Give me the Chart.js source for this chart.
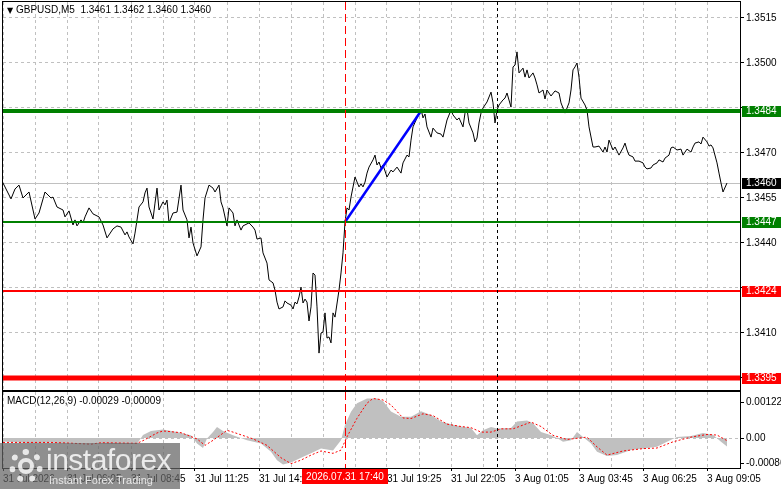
<!DOCTYPE html>
<html>
<head>
<meta charset="utf-8">
<title>GBPUSD M5</title>
<script src="https://cdn.jsdelivr.net/npm/chart.js@4.4.1/dist/chart.umd.min.js"></script>
<style>
  body { margin: 0; background: #fff; width: 781px; height: 489px; overflow: hidden; position: relative;
         font-family: 'Liberation Sans', Arial, sans-serif; }
  canvas { position: absolute; left: 0; }
  #priceChart { top: 0; }
  #macdChart { top: 391px; }
  .caption { position: absolute; font-size: 10px; line-height: 12px; color: #000; white-space: pre; }
  #title { left: 7px; top: 4px; }
  #title .tri { font-family: 'DejaVu Sans', sans-serif; font-size: 8px; }
  #macdTitle { left: 7px; top: 395px; }
  #wm { position: absolute; left: 0; top: 443px; width: 180px; height: 46px; background: rgba(100, 100, 100, 0.72); overflow: hidden; }
  #wm .gear { position: absolute; left: 9px; top: 6px; width: 22px; height: 22px; border: 6px dotted rgba(255, 255, 255, 0.8); border-radius: 50%; }
  #wm .gear::after { content: ''; position: absolute; left: 3px; top: 3px; width: 8px; height: 8px; border: 4px solid rgba(255, 255, 255, 0.8); border-radius: 50%; }
  #wm .big { position: absolute; left: 46px; top: 2px; font-size: 30px; line-height: 30px; color: rgba(255, 255, 255, 0.82); letter-spacing: -0.5px; }
  #wm .small { position: absolute; left: 49px; top: 32px; font-size: 11px; line-height: 11px; color: rgba(255, 255, 255, 0.8); }
</style>
</head>
<body>
<canvas id="priceChart" width="781" height="392"></canvas>
<canvas id="macdChart" width="781" height="98"></canvas>
<div id="title" class="caption"><span class="tri">▼</span> GBPUSD,M5  1.3461 1.3462 1.3460 1.3460</div>
<div id="macdTitle" class="caption">MACD(12,26,9) -0.00029 -0.00009</div>
<div id="wm"><div class="gear"></div><div class="big">instaforex</div><div class="small">Instant Forex Trading</div></div>
<script>
// Datos: barras M5 (índice desde 31 Jul 03:25) y cierres
const priceBars = [
  0, 4, 6, 8, 10, 13, 16, 18, 21, 24,
  25, 27, 30, 31, 33, 35, 36, 37, 39, 40,
  41, 43, 45, 48, 50, 52, 55, 57, 59, 61,
  62, 63, 65, 66, 68, 70, 71, 72, 73, 75,
  76, 77, 78, 80, 81, 82, 83, 85, 87, 89,
  90, 92, 93, 94, 95, 97, 99, 100, 101, 103,
  105, 106, 108, 109, 110, 112, 113, 115, 116, 117,
  119, 120, 123, 125, 126, 127, 129, 130, 132, 133,
  135, 136, 137, 138, 140, 141, 142, 144, 145, 146,
  147, 148, 149, 150, 151, 152, 153, 154, 155, 156,
  157, 158, 159, 160, 161, 162, 163, 164, 165, 166,
  168, 169, 170, 171, 172, 173, 174, 176, 178, 179,
  180, 181, 182, 183, 185, 186, 187, 188, 189, 190,
  192, 194, 195, 197, 199, 200, 202, 203, 204, 205,
  207, 208, 209, 210, 211, 212, 214, 215, 217, 219,
  220, 222, 224, 225, 227, 228, 230, 231, 232, 233,
  235, 236, 237, 238, 239, 240, 242, 244, 245, 246,
  247, 248, 250, 251, 252, 254, 255, 256, 257, 258,
  260, 261, 262, 263, 265, 266, 267, 268, 270, 271,
  272, 274, 276, 278, 279, 281, 283, 284, 285, 286,
  287, 288, 289, 291, 292, 293, 295, 296, 298, 300,
  301, 302, 303, 305, 306, 308, 310, 311, 312, 313,
  315, 316, 318, 320, 321, 322, 324, 325, 327, 328,
  330, 331, 333, 334, 335, 337, 339, 340, 342, 344,
  345, 346, 348, 349, 350, 352, 353, 354, 355, 357,
  358, 359, 360, 362
];
const priceCloses = [
  1.34600, 1.34547, 1.34580, 1.34593, 1.34550, 1.34570, 1.34480, 1.34500, 1.34570, 1.34550,
  1.34553, 1.34520, 1.34510, 1.34487, 1.34507, 1.34460, 1.34477, 1.34457, 1.34477, 1.34467,
  1.34487, 1.34517, 1.34497, 1.34487, 1.34460, 1.34417, 1.34447, 1.34457, 1.34453, 1.34427,
  1.34437, 1.34420, 1.34397, 1.34433, 1.34520, 1.34537, 1.34567, 1.34583, 1.34520, 1.34480,
  1.34533, 1.34583, 1.34510, 1.34537, 1.34527, 1.34543, 1.34467, 1.34500, 1.34503, 1.34593,
  1.34510, 1.34477, 1.34417, 1.34453, 1.34400, 1.34357, 1.34387, 1.34477, 1.34550, 1.34593,
  1.34583, 1.34570, 1.34593, 1.34537, 1.34517, 1.34457, 1.34517, 1.34500, 1.34457, 1.34477,
  1.34443, 1.34457, 1.34467, 1.34453, 1.34443, 1.34413, 1.34417, 1.34367, 1.34333, 1.34277,
  1.34267, 1.34243, 1.34203, 1.34180, 1.34187, 1.34207, 1.34200, 1.34193, 1.34180, 1.34203,
  1.34197, 1.34220, 1.34253, 1.34200, 1.34213, 1.34203, 1.34140, 1.34187, 1.34300, 1.34293,
  1.34187, 1.34033, 1.34100, 1.34103, 1.34167, 1.34083, 1.34087, 1.34067, 1.34167, 1.34153,
  1.34243, 1.34300, 1.34367, 1.34470, 1.34517, 1.34510, 1.34553, 1.34620, 1.34587, 1.34597,
  1.34587, 1.34603, 1.34633, 1.34653, 1.34677, 1.34693, 1.34660, 1.34670, 1.34650, 1.34660,
  1.34620, 1.34643, 1.34637, 1.34653, 1.34633, 1.34667, 1.34693, 1.34687, 1.34743, 1.34787,
  1.34817, 1.34833, 1.34847, 1.34817, 1.34830, 1.34787, 1.34753, 1.34783, 1.34767, 1.34763,
  1.34753, 1.34810, 1.34843, 1.34827, 1.34810, 1.34817, 1.34787, 1.34833, 1.34847, 1.34800,
  1.34767, 1.34737, 1.34750, 1.34800, 1.34833, 1.34850, 1.34870, 1.34903, 1.34867, 1.34800,
  1.34843, 1.34860, 1.34877, 1.34883, 1.34900, 1.34853, 1.34987, 1.34993, 1.35037, 1.34967,
  1.34983, 1.34953, 1.34977, 1.34950, 1.34967, 1.34950, 1.34927, 1.34900, 1.34910, 1.34880,
  1.34910, 1.34890, 1.34907, 1.34900, 1.34867, 1.34833, 1.34867, 1.34910, 1.34977, 1.34987,
  1.35000, 1.34953, 1.34883, 1.34860, 1.34843, 1.34787, 1.34720, 1.34720, 1.34723, 1.34703,
  1.34720, 1.34703, 1.34743, 1.34710, 1.34720, 1.34693, 1.34717, 1.34733, 1.34710, 1.34693,
  1.34687, 1.34673, 1.34673, 1.34667, 1.34653, 1.34647, 1.34650, 1.34660, 1.34667, 1.34677,
  1.34670, 1.34683, 1.34693, 1.34717, 1.34720, 1.34710, 1.34713, 1.34693, 1.34713, 1.34703,
  1.34720, 1.34733, 1.34737, 1.34730, 1.34753, 1.34737, 1.34723, 1.34727, 1.34717, 1.34667,
  1.34633, 1.34600, 1.34570, 1.34600
];

// Línea de tendencia azul
const trendBars = [171, 209];
const trendPrices = [1.3447, 1.3484];

// Niveles horizontales
const levelValues = [1.3484, 1.3447, 1.3424, 1.3395];
const levelLabels = ['1.3484', '1.3447', '1.3424', '1.3395'];

// Escala de precios
const priceTicks = [1.3395, 1.3410, 1.3425, 1.3440, 1.3455, 1.3470, 1.3485, 1.3500, 1.3515];

// Eje de tiempo
const timeLabels = ['31 Jul 2026', '31 Jul 06:05', '31 Jul 08:45', '31 Jul 11:25', '31 Jul 14:05', '31 Jul 16:45',
                    '31 Jul 19:25', '31 Jul 22:05', '3 Aug 01:05', '3 Aug 03:45', '3 Aug 06:25', '3 Aug 09:05'];
const cursorBar = 171;
const cursorLabel = '2026.07.31 17:40';
const separatorBar = 247;

// MACD (12,26,9)
const histBars = [
  0, 15, 24, 29, 44, 54, 67, 70, 74, 80,
  87, 94, 97, 100, 102, 105, 107, 110, 115, 122,
  129, 134, 137, 140, 144, 149, 154, 159, 165, 169,
  171, 174, 177, 182, 187, 190, 194, 199, 204, 209,
  214, 219, 224, 229, 234, 237, 240, 244, 247, 254,
  257, 262, 265, 269, 274, 277, 280, 284, 287, 290,
  294, 297, 302, 307, 314, 320, 327, 332, 337, 344,
  350, 355, 359, 362
];
const macdHist = [
  -0.00012, -0.00018, -0.00015, -0.00018, -0.00018, -0.00020, -0.00020, 0.00010, 0.00024, 0.00029,
  0.00020, 0.00009, -0.00019, -0.00034, -0.00002, 0.00020, 0.00037, 0.00024, 0.00009, -0.00008,
  -0.00019, -0.00047, -0.00075, -0.00090, -0.00083, -0.00067, -0.00052, -0.00036, -0.00042, -0.00008,
  0.00044, 0.00089, 0.00118, 0.00134, 0.00134, 0.00125, 0.00090, 0.00072, 0.00072, 0.00091,
  0.00078, 0.00056, 0.00047, 0.00039, 0.00034, 0.00009, 0.00026, 0.00037, 0.00032, 0.00034,
  0.00056, 0.00059, 0.00050, 0.00020, 0.00009, 0.00000, -0.00013, -0.00008, 0.00020, 0.00003,
  -0.00019, -0.00047, -0.00061, -0.00058, -0.00041, -0.00036, -0.00030, -0.00013, 0.00003, 0.00007,
  0.00017, 0.00011, -0.00013, -0.00029
];
const signalBars = [
  0, 24, 32, 44, 49, 67, 70, 77, 80, 89,
  97, 101, 105, 112, 115, 125, 132, 139, 144, 149,
  154, 159, 165, 169, 172, 177, 182, 185, 190, 194,
  200, 204, 210, 215, 222, 229, 234, 239, 244, 249,
  255, 264, 269, 275, 282, 292, 297, 302, 310, 320,
  327, 335, 344, 352, 357, 362
];
const macdSignal = [
  -0.00015, -0.00015, -0.00017, -0.00021, -0.00016, -0.00018, -0.00009, 0.00017, 0.00024, 0.00018,
  -0.00003, -0.00025, -0.00008, 0.00026, 0.00020, -0.00003, -0.00025, -0.00067, -0.00087, -0.00075,
  -0.00058, -0.00044, -0.00052, -0.00041, 0.00004, 0.00067, 0.00118, 0.00134, 0.00129, 0.00112,
  0.00068, 0.00066, 0.00082, 0.00076, 0.00047, 0.00039, 0.00035, 0.00020, 0.00020, 0.00031,
  0.00031, 0.00054, 0.00039, 0.00009, -0.00005, 0.00003, -0.00030, -0.00058, -0.00044, -0.00036,
  -0.00034, -0.00013, 0.00003, 0.00012, 0.00010, -0.00009
];
const macdTicks = [0.00122, 0, -0.00086];
const macdTickLabels = ['0.00122', '0.00', '-0.00086'];

const lastPrice = priceCloses[priceCloses.length - 1];
const gridBars = [];
for (let b = 0; b <= 352; b += 16) gridBars.push(b);

Chart.defaults.font.family = "'Liberation Sans', Arial, sans-serif";
Chart.defaults.font.size = 10;
Chart.defaults.color = '#000';

const gridColor = '#c0c0c0';
const fontStr = "10px 'Liberation Sans', Arial, sans-serif";

function noPad(s) {
  s.paddingTop = 0; s.paddingBottom = 0; s.paddingLeft = 0; s.paddingRight = 0;
}

// marco negro del área
const framePlugin = {
  id: 'frame',
  afterDraw(chart) {
    const { ctx, chartArea: a } = chart;
    ctx.save();
    ctx.strokeStyle = '#000';
    ctx.lineWidth = 1;
    ctx.strokeRect(a.left - 0.5, a.top - 0.5, a.right - a.left + 1, a.bottom - a.top + 1);
    ctx.restore();
  }
};

// separador de semana y cursor rojo
const markerPlugin = {
  id: 'markers',
  afterDatasetsDraw(chart) {
    const { ctx, chartArea: a, scales: { x } } = chart;
    ctx.save();
    ctx.lineWidth = 1;
    let px = Math.round(x.getPixelForValue(separatorBar)) + 0.5;
    ctx.strokeStyle = '#000';
    ctx.setLineDash([3, 3]);
    ctx.beginPath(); ctx.moveTo(px, a.top); ctx.lineTo(px, a.bottom); ctx.stroke();
    px = Math.round(x.getPixelForValue(cursorBar)) + 0.5;
    ctx.strokeStyle = '#ff0000';
    ctx.setLineDash([8, 4]);
    ctx.beginPath(); ctx.moveTo(px, a.top); ctx.lineTo(px, a.bottom); ctx.stroke();
    ctx.restore();
  }
};

function tag(ctx, x0, y, text, bg) {
  ctx.fillStyle = bg;
  ctx.fillRect(x0 + 2, Math.round(y) - 5, 39, 11);
  ctx.fillStyle = '#fff';
  ctx.textBaseline = 'middle';
  ctx.textAlign = 'left';
  ctx.fillText(text, x0 + 6, Math.round(y) + 0.5);
}

// niveles de soporte / resistencia
const levelPlugin = {
  id: 'levels',
  beforeDatasetsDraw(chart) {
    const { ctx, chartArea: a, scales: { y } } = chart;
    const py = Math.round(y.getPixelForValue(lastPrice)) + 0.5;
    ctx.save();
    ctx.strokeStyle = '#c0c0c0';
    ctx.lineWidth = 1;
    ctx.beginPath(); ctx.moveTo(a.left, py); ctx.lineTo(a.right, py); ctx.stroke();
    ctx.restore();
  },
  afterDatasetsDraw(chart) {
    const { ctx, chartArea: a, scales: { y } } = chart;
    const widths = [4, 2, 2, 5];
    const colors = ['#008000', '#008000', '#ff0000', '#ff0000'];
    ctx.save();
    levelValues.forEach((v, i) => {
      const py = Math.round(y.getPixelForValue(v));
      ctx.strokeStyle = colors[i];
      ctx.lineWidth = widths[i];
      ctx.beginPath(); ctx.moveTo(a.left, py); ctx.lineTo(a.right, py); ctx.stroke();
    });
    ctx.restore();
  },
  afterDraw(chart) {
    const { ctx, chartArea: a, scales: { y } } = chart;
    const colors = ['#008000', '#008000', '#ff0000', '#ff0000'];
    ctx.save();
    ctx.font = fontStr;
    levelValues.forEach((v, i) => tag(ctx, a.right, y.getPixelForValue(v), levelLabels[i], colors[i]));
    tag(ctx, a.right, y.getPixelForValue(lastPrice), lastPrice.toFixed(4), '#000');
    ctx.restore();
  }
};

// etiqueta de fecha del cursor
const timeTagPlugin = {
  id: 'timeTag',
  afterDraw(chart) {
    const { ctx, chartArea: a, scales: { x } } = chart;
    const px = x.getPixelForValue(cursorBar);
    ctx.save();
    ctx.font = fontStr;
    const w = Math.round(ctx.measureText(cursorLabel).width) + 8;
    ctx.fillStyle = '#ff0000';
    ctx.fillRect(Math.round(px - w / 2), a.bottom + 1, w, 15);
    ctx.fillStyle = '#fff';
    ctx.textAlign = 'center';
    ctx.textBaseline = 'middle';
    ctx.fillText(cursorLabel, px, a.bottom + 9);
    ctx.restore();
  }
};

const xMax = 368.5;

// Gráfico de precio
new Chart(document.getElementById('priceChart'), {
  type: 'line',
  data: {
    datasets: [
      {
        label: 'GBPUSD',
        data: priceBars.map((b, i) => ({ x: b, y: priceCloses[i] })),
        borderColor: '#000',
        borderWidth: 1,
        pointRadius: 0,
        tension: 0,
        order: 1
      },
      {
        label: 'Trend',
        data: trendBars.map((b, i) => ({ x: b, y: trendPrices[i] })),
        borderColor: '#0000ff',
        borderWidth: 2.5,
        pointRadius: 0,
        order: 0
      }
    ]
  },
  options: {
    animation: false,
    responsive: false,
    events: [],
    layout: { padding: { left: 3, top: 2, right: 0, bottom: 2 } },
    plugins: { legend: { display: false }, tooltip: { enabled: false } },
    scales: {
      x: {
        type: 'linear',
        min: 0,
        max: xMax,
        afterBuildTicks: s => { s.ticks = gridBars.map(v => ({ value: v })); },
        afterFit: s => { s.height = 0; noPad(s); },
        ticks: { display: false },
        grid: { color: gridColor, drawTicks: false },
        border: { display: false, dash: [3, 3] }
      },
      y: {
        position: 'right',
        min: 1.3391,
        max: 1.3520333,
        afterBuildTicks: s => { s.ticks = priceTicks.map(v => ({ value: v })); },
        afterFit: s => { s.width = 41; noPad(s); },
        ticks: {
          padding: 2,
          callback: v => levelValues.concat([lastPrice]).some(l => Math.abs(l - v) < 0.0003) ? '' : v.toFixed(4)
        },
        grid: { color: gridColor, tickLength: 4, tickColor: '#000' },
        border: { display: false, dash: [3, 3] }
      }
    }
  },
  plugins: [levelPlugin, markerPlugin, framePlugin]
});

// Gráfico MACD
new Chart(document.getElementById('macdChart'), {
  type: 'line',
  data: {
    datasets: [
      {
        label: 'Signal',
        data: signalBars.map((b, i) => ({ x: b, y: macdSignal[i] })),
        borderColor: '#ff0000',
        borderWidth: 1,
        borderDash: [2, 2],
        pointRadius: 0,
        fill: false,
        order: 0
      },
      {
        label: 'MACD',
        data: histBars.map((b, i) => ({ x: b, y: macdHist[i] })),
        borderColor: 'rgba(0,0,0,0)',
        borderWidth: 0,
        backgroundColor: '#c0c0c0',
        fill: 'origin',
        pointRadius: 0,
        order: 1
      }
    ]
  },
  options: {
    animation: false,
    responsive: false,
    events: [],
    layout: { padding: { left: 3, top: 1, right: 0, bottom: 0 } },
    plugins: { legend: { display: false }, tooltip: { enabled: false } },
    scales: {
      x: {
        type: 'linear',
        min: 0,
        max: xMax,
        afterBuildTicks: s => { s.ticks = gridBars.map(v => ({ value: v })); },
        afterFit: s => { s.height = 21; noPad(s); },
        ticks: {
          autoSkip: false,
          maxRotation: 0,
          align: 'start',
          padding: 2,
          callback: v => (v % 32 === 0 && Math.abs(v - cursorBar) > 20) ? timeLabels[v / 32] : ''
        },
        grid: {
          color: gridColor,
          tickLength: 3,
          tickColor: c => (c.tick && c.tick.value % 32 === 0) ? '#000' : 'rgba(0,0,0,0)'
        },
        border: { display: false, dash: [3, 3] }
      },
      y: {
        position: 'right',
        min: -0.0010169,
        max: 0.0015593,
        afterBuildTicks: s => { s.ticks = macdTicks.map(v => ({ value: v })); },
        afterFit: s => { s.width = 41; noPad(s); },
        ticks: { padding: 2, callback: (v, i) => macdTickLabels[i] },
        grid: {
          color: c => (c.tick && c.tick.value === 0) ? gridColor : 'rgba(0,0,0,0)',
          tickLength: 4,
          tickColor: '#000'
        },
        border: { display: false, dash: [3, 3] }
      }
    }
  },
  plugins: [markerPlugin, framePlugin, timeTagPlugin]
});
</script>
</body>
</html>
